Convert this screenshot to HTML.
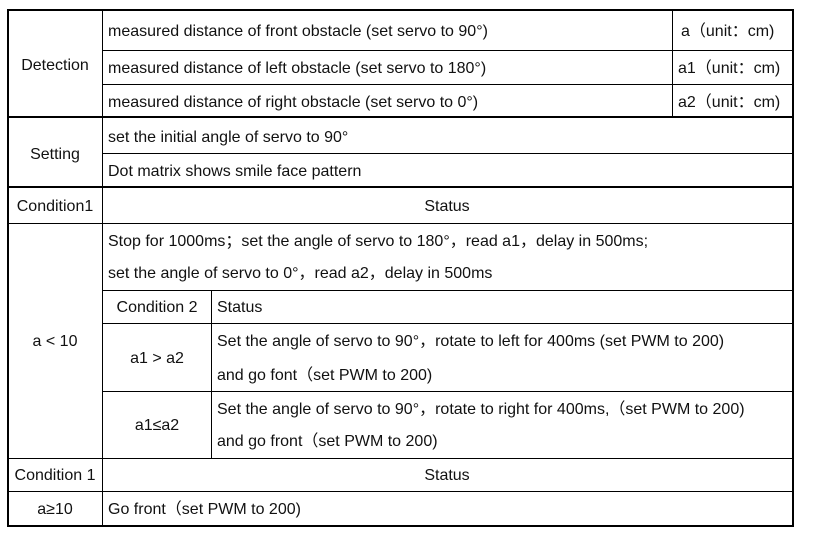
<!DOCTYPE html>
<html><head><meta charset="utf-8"><style>
body{margin:0;width:815px;height:542px;background:#fff;position:relative;overflow:hidden;font-family:"Liberation Sans","Noto Sans CJK SC",sans-serif;font-size:16px;color:#111}
.h,.v{position:absolute;background:#000}
.t{position:absolute;white-space:nowrap;line-height:20px;height:20px;margin-top:2px}
.c{transform:translateX(-50%)}
</style></head><body>
<div class="h" style="left:7px;top:9px;width:787px;height:2px"></div>
<div class="h" style="left:7px;top:525px;width:787px;height:2px"></div>
<div class="v" style="left:7px;top:9px;width:2px;height:518px"></div>
<div class="v" style="left:792px;top:9px;width:2px;height:518px"></div>
<div class="v" style="left:102px;top:10px;width:1px;height:516px"></div>
<div class="v" style="left:672px;top:10px;width:1px;height:107px"></div>
<div class="v" style="left:211px;top:290px;width:1px;height:168px"></div>
<div class="h" style="left:102px;top:50px;width:691px;height:1px"></div>
<div class="h" style="left:102px;top:84px;width:691px;height:1px"></div>
<div class="h" style="left:7px;top:116px;width:787px;height:2px"></div>
<div class="h" style="left:102px;top:153px;width:691px;height:1px"></div>
<div class="h" style="left:7px;top:186px;width:787px;height:2px"></div>
<div class="h" style="left:7px;top:223px;width:787px;height:1px"></div>
<div class="h" style="left:102px;top:290px;width:691px;height:1px"></div>
<div class="h" style="left:102px;top:323px;width:691px;height:1px"></div>
<div class="h" style="left:102px;top:391px;width:691px;height:1px"></div>
<div class="h" style="left:7px;top:458px;width:787px;height:1px"></div>
<div class="h" style="left:7px;top:491px;width:787px;height:1px"></div>
<div class="t c" style="left:55px;top:54px">Detection</div>
<div class="t" style="left:108px;top:20px">measured distance of front obstacle (set servo to 90°)</div>
<div class="t" style="left:108px;top:57px">measured distance of left obstacle (set servo to 180°)</div>
<div class="t" style="left:108px;top:91px">measured distance of right obstacle (set servo to 0°)</div>
<div class="t" style="left:681px;top:20px">a（unit：cm)</div>
<div class="t" style="left:678px;top:57px">a1（unit：cm)</div>
<div class="t" style="left:678px;top:91px">a2（unit：cm)</div>
<div class="t c" style="left:55px;top:143px">Setting</div>
<div class="t" style="left:108px;top:126px">set the initial angle of servo to 90°</div>
<div class="t" style="left:108px;top:160px">Dot matrix shows smile face pattern</div>
<div class="t c" style="left:55px;top:195px">Condition1</div>
<div class="t c" style="left:447px;top:195px">Status</div>
<div class="t" style="left:108px;top:230px">Stop for 1000ms；set the angle of servo to 180°，read a1，delay in 500ms;</div>
<div class="t" style="left:108px;top:262px">set the angle of servo to 0°，read a2，delay in 500ms</div>
<div class="t c" style="left:55px;top:330px">a &lt; 10</div>
<div class="t c" style="left:157px;top:296px">Condition 2</div>
<div class="t" style="left:217px;top:296px">Status</div>
<div class="t c" style="left:157px;top:347px">a1 &gt; a2</div>
<div class="t" style="left:217px;top:330px">Set the angle of servo to 90°，rotate to left for 400ms (set PWM to 200)</div>
<div class="t" style="left:217px;top:364px">and go font（set PWM to 200)</div>
<div class="t c" style="left:157px;top:414px">a1≤a2</div>
<div class="t" style="left:217px;top:398px">Set the angle of servo to 90°，rotate to right for 400ms,（set PWM to 200)</div>
<div class="t" style="left:217px;top:430px">and go front（set PWM to 200)</div>
<div class="t c" style="left:55px;top:464px">Condition 1</div>
<div class="t c" style="left:447px;top:464px">Status</div>
<div class="t c" style="left:55px;top:498px">a≥10</div>
<div class="t" style="left:108px;top:498px">Go front（set PWM to 200)</div>
</body></html>
